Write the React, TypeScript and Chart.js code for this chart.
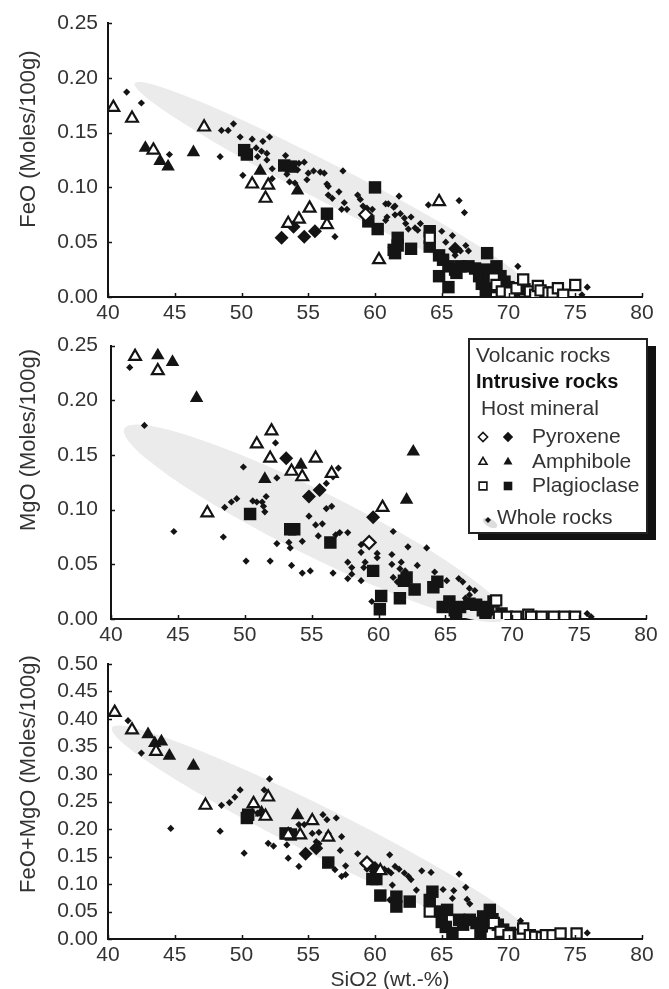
import React, { useEffect, useRef } from 'react';
import { Chart, registerables } from 'chart.js';
import { drawPoint } from 'chart.js/helpers';

Chart.register(...registerables);

type Pt = [number, number];

// ---------- tick values ----------
const silicaTicks = [40, 45, 50, 55, 60, 65, 70, 75, 80];
const feoTicks = [0, 0.05, 0.1, 0.15, 0.2, 0.25];
const mgoTicks = [0, 0.05, 0.1, 0.15, 0.2, 0.25];
const sumTicks = [0, 0.05, 0.1, 0.15, 0.2, 0.25, 0.3, 0.35, 0.4, 0.45, 0.5];

// ---------- FeO panel ----------
const feoVolcPyx: Pt[] = [[59.3, 0.075]];
const feoIntrPyx: Pt[] = [[53.0, 0.054], [53.9, 0.064], [54.7, 0.055], [55.5, 0.060], [66.0, 0.044]];
const feoVolcAmph: Pt[] = [[40.4, 0.173], [41.8, 0.163], [43.4, 0.134], [47.2, 0.155], [50.8, 0.103], [52.0, 0.102], [51.8, 0.090], [53.5, 0.067], [54.3, 0.071], [55.1, 0.081], [56.4, 0.066], [60.3, 0.034], [64.8, 0.087]];
const feoIntrAmph: Pt[] = [[42.8, 0.136], [43.9, 0.124], [44.5, 0.119], [46.4, 0.132], [51.4, 0.115], [54.2, 0.097]];
const feoVolcPlag: Pt[] = [[64.1, 0.054], [68.9, 0.017], [69.1, 0.011], [69.5, 0.005], [70.1, 0.004], [70.6, 0.008], [71.1, 0.016], [71.6, 0.005], [72.0, 0.002], [72.2, 0.010], [72.4, 0.006], [73.0, 0.004], [73.3, 0.004], [73.7, 0.008], [74.1, 0.002], [75.0, 0.011]];
const feoIntrPlag: Pt[] = [[50.2, 0.134], [50.4, 0.130], [53.2, 0.120], [53.7, 0.119], [56.4, 0.076], [60.0, 0.100], [59.5, 0.069], [60.2, 0.062], [61.7, 0.054], [61.7, 0.047], [61.4, 0.043], [61.5, 0.040], [62.7, 0.044], [64.1, 0.060], [64.1, 0.046], [64.8, 0.038], [65.1, 0.034], [65.5, 0.028], [66.0, 0.025], [64.8, 0.019], [65.5, 0.009], [66.1, 0.022], [66.4, 0.028], [67.0, 0.028], [67.5, 0.026], [67.8, 0.019], [68.0, 0.012], [68.4, 0.040], [68.3, 0.025], [68.5, 0.019], [68.6, 0.009], [68.3, 0.003], [69.1, 0.028], [69.4, 0.019], [69.7, 0.014], [70.0, 0.009], [70.4, 0.005], [71.2, 0.007], [71.7, 0.003], [72.7, 0.004]];
const feoWholeRocks: Pt[] = [[41.4, 0.187], [42.5, 0.177], [44.6, 0.130], [48.4, 0.128], [48.5, 0.152], [49.0, 0.152], [49.4, 0.158], [49.9, 0.146], [50.1, 0.111], [50.8, 0.144], [51.6, 0.142], [52.1, 0.146], [51.1, 0.136], [51.5, 0.133], [51.9, 0.131], [51.2, 0.128], [51.9, 0.125], [52.3, 0.117], [52.3, 0.108], [53.3, 0.129], [53.6, 0.105], [54.0, 0.104], [54.3, 0.122], [54.7, 0.123], [54.2, 0.116], [54.9, 0.107], [55.4, 0.115], [55.9, 0.114], [56.2, 0.113], [56.4, 0.103], [56.5, 0.101], [56.5, 0.093], [56.8, 0.090], [57.3, 0.096], [57.6, 0.115], [57.5, 0.080], [57.9, 0.080], [57.7, 0.086], [57.0, 0.055], [58.7, 0.093], [58.9, 0.089], [59.1, 0.083], [59.4, 0.081], [59.8, 0.080], [60.8, 0.085], [61.0, 0.085], [61.4, 0.082], [61.5, 0.083], [61.8, 0.092], [60.9, 0.073], [61.5, 0.075], [61.9, 0.076], [62.2, 0.072], [62.7, 0.073], [62.3, 0.067], [63.4, 0.067], [63.0, 0.063], [62.5, 0.062], [63.2, 0.061], [64.0, 0.084], [60.8, 0.070], [61.2, 0.045], [65.0, 0.060], [65.8, 0.056], [65.3, 0.050], [66.3, 0.088], [66.7, 0.077], [66.0, 0.038], [66.4, 0.042], [66.8, 0.047], [67.0, 0.042], [70.7, 0.028], [75.9, 0.009], [75.5, 0.002], [53.4, 0.112], [55.0, 0.113]];

// ---------- MgO panel ----------
const mgoVolcPyx: Pt[] = [[59.3, 0.070]];
const mgoIntrPyx: Pt[] = [[53.1, 0.147], [54.8, 0.112], [55.6, 0.118], [59.6, 0.093]];
const mgoVolcAmph: Pt[] = [[41.8, 0.240], [43.5, 0.227], [47.2, 0.097], [50.9, 0.160], [52.0, 0.172], [51.9, 0.147], [53.5, 0.135], [54.3, 0.130], [55.3, 0.147], [56.5, 0.133], [60.3, 0.102]];
const mgoIntrAmph: Pt[] = [[43.5, 0.241], [44.6, 0.235], [46.4, 0.202], [51.5, 0.128], [54.2, 0.141], [62.1, 0.109], [62.6, 0.153]];
const mgoVolcPlag: Pt[] = [[68.8, 0.017], [69.0, 0.002], [69.6, 0.002], [70.3, 0.002], [71.2, 0.004], [71.4, 0.002], [72.2, 0.002], [73.1, 0.002], [73.9, 0.002], [74.7, 0.002]];
const mgoIntrPlag: Pt[] = [[50.4, 0.096], [53.4, 0.082], [53.7, 0.082], [56.4, 0.070], [59.6, 0.044], [60.2, 0.021], [60.1, 0.009], [61.6, 0.019], [61.9, 0.035], [62.1, 0.038], [62.7, 0.027], [64.1, 0.029], [64.4, 0.034], [64.8, 0.011], [65.3, 0.016], [65.7, 0.008], [66.1, 0.011], [65.8, 0.004], [66.8, 0.014], [67.3, 0.013], [67.8, 0.008], [68.2, 0.011], [68.6, 0.016], [68.0, 0.004], [69.2, 0.005]];
const mgoWholeRocks: Pt[] = [[41.4, 0.230], [42.5, 0.177], [44.7, 0.080], [48.4, 0.075], [48.5, 0.102], [49.0, 0.107], [49.4, 0.110], [49.9, 0.139], [50.1, 0.053], [50.6, 0.108], [50.9, 0.107], [51.3, 0.107], [51.4, 0.103], [51.5, 0.098], [51.6, 0.112], [51.9, 0.053], [52.3, 0.161], [52.4, 0.129], [52.4, 0.069], [53.3, 0.070], [53.4, 0.065], [53.5, 0.049], [54.3, 0.071], [54.3, 0.042], [54.9, 0.044], [54.8, 0.094], [55.3, 0.086], [55.8, 0.087], [55.5, 0.076], [56.1, 0.101], [56.5, 0.103], [56.6, 0.042], [56.1, 0.124], [56.6, 0.130], [57.0, 0.138], [57.1, 0.079], [57.7, 0.079], [56.8, 0.077], [57.7, 0.052], [57.7, 0.037], [58.0, 0.041], [58.0, 0.047], [58.7, 0.068], [58.7, 0.061], [58.7, 0.035], [59.0, 0.052], [58.9, 0.047], [59.5, 0.016], [59.9, 0.060], [59.9, 0.056], [61.0, 0.059], [61.7, 0.052], [61.0, 0.050], [61.6, 0.046], [62.0, 0.044], [62.9, 0.049], [61.1, 0.038], [61.4, 0.034], [61.1, 0.080], [62.2, 0.066], [63.6, 0.065], [64.2, 0.043], [65.1, 0.035], [66.0, 0.037], [66.3, 0.034], [66.8, 0.028], [67.2, 0.026], [66.8, 0.022], [66.5, 0.019], [68.4, 0.005], [75.6, 0.005], [75.9, 0.002]];

// ---------- FeO+MgO panel ----------
const sumVolcPyx: Pt[] = [[59.4, 0.138]];
const sumIntrPyx: Pt[] = [[54.8, 0.155], [55.6, 0.165], [60.0, 0.129]];
const sumVolcAmph: Pt[] = [[40.5, 0.412], [41.8, 0.380], [43.6, 0.341], [47.3, 0.243], [50.9, 0.246], [52.0, 0.258], [51.8, 0.223], [53.5, 0.189], [54.4, 0.189], [55.3, 0.215], [56.5, 0.185], [60.4, 0.124]];
const sumIntrAmph: Pt[] = [[43.0, 0.372], [43.5, 0.356], [44.0, 0.359], [44.6, 0.333], [46.4, 0.315], [51.5, 0.230], [54.2, 0.225]];
const sumVolcPlag: Pt[] = [[64.1, 0.050], [68.9, 0.029], [69.4, 0.013], [70.0, 0.007], [70.9, 0.008], [71.1, 0.019], [71.6, 0.007], [72.0, 0.004], [72.5, 0.003], [72.8, 0.007], [73.3, 0.007], [73.9, 0.010], [75.1, 0.010]];
const sumIntrPlag: Pt[] = [[50.4, 0.220], [50.5, 0.226], [53.3, 0.192], [53.7, 0.190], [56.5, 0.139], [59.8, 0.109], [60.1, 0.109], [60.4, 0.079], [61.6, 0.077], [61.6, 0.059], [62.6, 0.068], [64.3, 0.086], [64.1, 0.071], [64.9, 0.050], [65.4, 0.053], [65.0, 0.031], [65.3, 0.022], [65.8, 0.011], [66.3, 0.035], [66.6, 0.026], [67.1, 0.035], [67.6, 0.029], [68.1, 0.041], [68.6, 0.053], [68.8, 0.036], [67.9, 0.011], [68.0, 0.023], [69.2, 0.026], [69.6, 0.017], [70.1, 0.011]];
const sumWholeRocks: Pt[] = [[41.5, 0.397], [42.5, 0.338], [44.7, 0.201], [48.4, 0.196], [48.5, 0.243], [49.1, 0.248], [49.5, 0.258], [49.9, 0.271], [50.2, 0.156], [50.8, 0.232], [51.2, 0.229], [51.5, 0.229], [51.7, 0.271], [52.1, 0.291], [52.0, 0.174], [52.4, 0.169], [53.4, 0.171], [53.5, 0.147], [54.3, 0.132], [54.3, 0.208], [54.7, 0.208], [55.3, 0.192], [55.8, 0.194], [56.1, 0.226], [56.4, 0.217], [57.1, 0.220], [55.6, 0.177], [55.8, 0.173], [56.5, 0.192], [57.5, 0.186], [57.4, 0.161], [57.0, 0.126], [57.5, 0.114], [57.8, 0.117], [57.8, 0.133], [58.7, 0.155], [59.1, 0.137], [59.4, 0.127], [59.8, 0.123], [61.1, 0.153], [60.7, 0.127], [61.0, 0.124], [61.2, 0.120], [61.5, 0.132], [61.8, 0.127], [61.3, 0.098], [61.1, 0.071], [62.2, 0.120], [62.5, 0.114], [62.7, 0.108], [63.1, 0.089], [63.5, 0.124], [64.2, 0.121], [65.1, 0.090], [65.9, 0.088], [65.8, 0.074], [66.3, 0.118], [66.8, 0.094], [66.9, 0.072], [67.1, 0.064], [70.9, 0.033], [75.9, 0.011]];

// ---------- styling ----------
const FONT = '"Liberation Sans", Arial, Helvetica, sans-serif';
const INK = '#141414';
const TEXT = '#333333';
const FIELD = '#ebebeb';
const W = 669;

type Series = { volcPyx: Pt[]; intrPyx: Pt[]; volcAmph: Pt[]; intrAmph: Pt[]; volcPlag: Pt[]; intrPlag: Pt[]; whole: Pt[] };

const MARK = {
  volcPlag: { pointStyle: 'rect', radius: 7.2, fill: '#ffffff', border: 2.2 },
  volcPyx: { pointStyle: 'rectRot', radius: 6.5, fill: '#ffffff', border: 2.2 },
  volcAmph: { pointStyle: 'triangle', radius: 6.8, fill: '#ffffff', border: 2.2 },
  intrPyx: { pointStyle: 'rectRot', radius: 7, fill: INK, border: 0 },
  intrAmph: { pointStyle: 'triangle', radius: 7.8, fill: INK, border: 0 },
  intrPlag: { pointStyle: 'rect', radius: 8.8, fill: INK, border: 0 },
  whole: { pointStyle: 'rectRot', radius: 3.6, fill: INK, border: 0 },
};

const ORDER: (keyof Series)[] = ['volcPlag', 'volcPyx', 'volcAmph', 'intrPyx', 'intrAmph', 'intrPlag', 'whole'];
const NAMES: Record<string, string> = {
  volcPlag: 'Plagioclase (volcanic)', volcPyx: 'Pyroxene (volcanic)', volcAmph: 'Amphibole (volcanic)',
  intrPyx: 'Pyroxene (intrusive)', intrAmph: 'Amphibole (intrusive)', intrPlag: 'Plagioclase (intrusive)', whole: 'Whole rocks',
};

function buildDatasets(s: Series) {
  return ORDER.map((k) => {
    const m = (MARK as any)[k];
    return {
      label: NAMES[k],
      data: s[k].map(([x, y]) => ({ x, y })),
      pointStyle: m.pointStyle,
      pointRadius: m.radius,
      pointHoverRadius: m.radius,
      pointBackgroundColor: m.fill,
      backgroundColor: m.fill,
      pointBorderColor: INK,
      borderColor: INK,
      pointBorderWidth: m.border,
      borderWidth: m.border,
      showLine: false,
    };
  });
}

// ---------- plugins ----------
const fieldPlugin = {
  id: 'field',
  beforeDatasetsDraw(chart: any, _a: any, opts: any) {
    if (!opts || !opts.from) return;
    const xs = chart.scales.x, ys = chart.scales.y;
    const x1 = xs.getPixelForValue(opts.from[0]), y1 = ys.getPixelForValue(opts.from[1]);
    const x2 = xs.getPixelForValue(opts.to[0]), y2 = ys.getPixelForValue(opts.to[1]);
    const cx = (x1 + x2) / 2, cy = (y1 + y2) / 2;
    const a = Math.hypot(x2 - x1, y2 - y1) / 2;
    const ang = Math.atan2(y2 - y1, x2 - x1);
    const ctx = chart.ctx;
    ctx.save();
    ctx.beginPath();
    ctx.ellipse(cx, cy, a, opts.halfWidth, ang, 0, Math.PI * 2);
    ctx.fillStyle = FIELD;
    ctx.fill();
    ctx.restore();
  },
};

const innerTicksPlugin = {
  id: 'innerTicks',
  afterDatasetsDraw(chart: any) {
    const ctx = chart.ctx;
    const xs = chart.scales.x, ys = chart.scales.y;
    const { left, bottom } = chart.chartArea;
    ctx.save();
    ctx.strokeStyle = INK;
    ctx.lineWidth = 1.5;
    ctx.beginPath();
    xs.ticks.forEach((t: any) => {
      const p = Math.round(xs.getPixelForValue(t.value)) + 0.5;
      ctx.moveTo(p, bottom);
      ctx.lineTo(p, bottom - 4);
    });
    ys.ticks.forEach((t: any) => {
      const p = Math.round(ys.getPixelForValue(t.value)) + 0.5;
      ctx.moveTo(left, p);
      ctx.lineTo(left + 4, p);
    });
    ctx.stroke();
    ctx.restore();
  },
};

const titlesPlugin = {
  id: 'axisTitles',
  afterDraw(chart: any, _a: any, opts: any) {
    const ctx = chart.ctx;
    ctx.save();
    ctx.fillStyle = TEXT;
    ctx.textAlign = 'center';
    ctx.textBaseline = 'middle';
    ctx.font = `22px ${FONT}`;
    if (opts.yTitle) {
      ctx.save();
      ctx.translate(opts.yPos[0], opts.yPos[1]);
      ctx.rotate(-Math.PI / 2);
      ctx.fillText(opts.yTitle, 0, 0);
      ctx.restore();
    }
    if (opts.xTitle) {
      ctx.font = `21px ${FONT}`;
      ctx.fillText(opts.xTitle, opts.xPos[0], opts.xPos[1]);
    }
    ctx.restore();
  },
};

const legendPlugin = {
  id: 'boxLegend',
  afterDraw(chart: any, _a: any, opts: any) {
    if (!opts || !opts.show) return;
    const ctx = chart.ctx;
    const L = 469, T = 19, R = 647, B = 213;
    ctx.save();
    ctx.fillStyle = '#111';
    ctx.fillRect(L + 9, T + 7, R - L, B - T);
    ctx.fillStyle = '#fff';
    ctx.fillRect(L, T, R - L, B - T);
    ctx.strokeStyle = '#222';
    ctx.lineWidth = 2;
    ctx.strokeRect(L, T, R - L, B - T);

    ctx.fillStyle = TEXT;
    ctx.textAlign = 'left';
    ctx.textBaseline = 'middle';
    ctx.font = `21px ${FONT}`;
    ctx.fillText('Volcanic rocks', 476, 36);
    ctx.fillStyle = '#111';
    ctx.font = `bold 20px ${FONT}`;
    ctx.fillText('Intrusive rocks', 476, 62);
    ctx.fillStyle = TEXT;
    ctx.font = `21px ${FONT}`;
    ctx.fillText('Host mineral', 481, 89);
    const rows: [string, string, number][] = [['Pyroxene', 'rectRot', 117], ['Amphibole', 'triangle', 142], ['Plagioclase', 'rect', 166]];
    rows.forEach(([name, style, y]) => {
      const r = style === 'rect' ? 5.5 : 4.6;
      ctx.lineWidth = 1.6;
      ctx.strokeStyle = INK;
      ctx.fillStyle = '#fff';
      drawPoint(ctx, { pointStyle: style, radius: r, borderWidth: 1.6, rotation: 0 } as any, 483, y);
      ctx.fillStyle = INK;
      drawPoint(ctx, { pointStyle: style, radius: r + 0.6, borderWidth: 0, rotation: 0 } as any, 508, y);
      ctx.fillStyle = TEXT;
      ctx.fillText(name, 532, y);
    });
    ctx.save();
    ctx.beginPath();
    ctx.ellipse(490, 203, 8, 4, 0.5, 0, Math.PI * 2);
    ctx.fillStyle = '#dddddd';
    ctx.fill();
    ctx.restore();
    ctx.fillStyle = INK;
    drawPoint(ctx, { pointStyle: 'rectRot', radius: 3, borderWidth: 0, rotation: 0 } as any, 488, 200);
    ctx.fillStyle = TEXT;
    ctx.fillText('Whole rocks', 497, 198);
    ctx.restore();
  },
};

// ---------- panels ----------
type Panel = {
  top: number; height: number;
  area: { left: number; right: number; top: number; bottom: number };
  xAxisH: number; yPad: number;
  yTicks: number[]; yMax: number;
  yTitle: string; yPos: [number, number];
  xTitle?: string; xPos?: [number, number];
  field: { from: Pt; to: Pt; halfWidth: number };
  series: Series;
  legend?: boolean;
};

const PANELS: Panel[] = [
  {
    top: 0, height: 340, area: { left: 108, right: 642, top: 23, bottom: 297 }, xAxisH: 30, yPad: 10,
    yTicks: feoTicks, yMax: 0.25, yTitle: 'FeO (Moles/100g)', yPos: [29, 139],
    field: { from: [42.0, 0.195], to: [71.3, 0.011], halfWidth: 19 },
    series: { volcPyx: feoVolcPyx, intrPyx: feoIntrPyx, volcAmph: feoVolcAmph, intrAmph: feoIntrAmph, volcPlag: feoVolcPlag, intrPlag: feoIntrPlag, whole: feoWholeRocks },
  },
  {
    top: 320, height: 340, area: { left: 111, right: 646, top: 21, bottom: 299 }, xAxisH: 30, yPad: 13,
    yTicks: mgoTicks, yMax: 0.25, yTitle: 'MgO (Moles/100g)', yPos: [29, 120],
    field: { from: [41.0, 0.174], to: [69.5, 0.001], halfWidth: 32 },
    series: { volcPyx: mgoVolcPyx, intrPyx: mgoIntrPyx, volcAmph: mgoVolcAmph, intrAmph: mgoIntrAmph, volcPlag: mgoVolcPlag, intrPlag: mgoIntrPlag, whole: mgoWholeRocks },
    legend: true,
  },
  {
    top: 640, height: 349, area: { left: 108, right: 642, top: 24, bottom: 299 }, xAxisH: 50, yPad: 10,
    yTicks: sumTicks, yMax: 0.5, yTitle: 'FeO+MgO (Moles/100g)', yPos: [29, 134],
    xTitle: 'SiO2 (wt.-%)', xPos: [390, 340],
    field: { from: [40.3, 0.384], to: [71.7, 0.004], halfWidth: 24 },
    series: { volcPyx: sumVolcPyx, intrPyx: sumIntrPyx, volcAmph: sumVolcAmph, intrAmph: sumIntrAmph, volcPlag: sumVolcPlag, intrPlag: sumIntrPlag, whole: sumWholeRocks },
  },
];

function PanelChart({ p }: { p: Panel }) {
  const ref = useRef<HTMLCanvasElement>(null);
  useEffect(() => {
    if (!ref.current) return;
    const tickFont = { family: FONT, size: 21 };
    const chart = new Chart(ref.current, {
      type: 'scatter',
      data: { datasets: buildDatasets(p.series) as any },
      options: {
        responsive: false,
        animation: false,
        events: [],
        layout: { padding: { left: 0, top: p.area.top, right: W - p.area.right, bottom: p.height - p.area.bottom - p.xAxisH } },
        scales: {
          x: {
            type: 'linear', min: 40, max: 80,
            afterBuildTicks: (s: any) => { s.ticks = silicaTicks.map((v) => ({ value: v })); },
            afterFit: (s: any) => { s.height = p.xAxisH; },
            ticks: { color: TEXT, font: tickFont, padding: 4, autoSkip: false, maxRotation: 0, callback: (v: any) => String(v) },
            grid: { display: false, drawTicks: false },
            border: { display: true, color: INK, width: 2 },
          },
          y: {
            type: 'linear', min: 0, max: p.yMax,
            afterBuildTicks: (s: any) => { s.ticks = p.yTicks.map((v) => ({ value: v })); },
            afterFit: (s: any) => { s.width = p.area.left; },
            ticks: { color: TEXT, font: tickFont, padding: p.yPad, autoSkip: false, callback: (v: any) => Number(v).toFixed(2) },
            grid: { display: false, drawTicks: false },
            border: { display: true, color: INK, width: 2 },
          },
        },
        plugins: {
          legend: { display: false },
          tooltip: { enabled: false },
          field: p.field,
          axisTitles: { yTitle: p.yTitle, yPos: p.yPos, xTitle: p.xTitle, xPos: p.xPos },
          boxLegend: { show: !!p.legend },
        } as any,
      },
      plugins: [fieldPlugin, innerTicksPlugin, titlesPlugin, legendPlugin],
    });
    return () => chart.destroy();
  }, [p]);
  return (
    <canvas
      ref={ref}
      width={W}
      height={p.height}
      style={{ position: 'absolute', left: 0, top: p.top, width: W, height: p.height }}
    />
  );
}

export default function App() {
  return (
    <div style={{ position: 'absolute', left: 0, top: 0, width: W, height: 989, background: '#ffffff', overflow: 'hidden' }}>
      {PANELS.map((p, i) => (
        <PanelChart key={i} p={p} />
      ))}
    </div>
  );
}
